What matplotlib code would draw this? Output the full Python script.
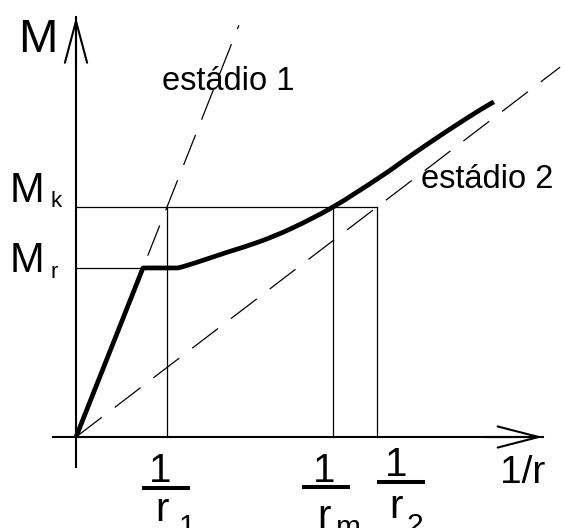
import matplotlib
matplotlib.use('Agg')
import matplotlib.pyplot as plt
from matplotlib.path import Path
from matplotlib.patches import PathPatch
import numpy as np

plt.rcParams['font.family'] = ['Liberation Sans', 'DejaVu Sans']

# moment-curvature diagram values (curvature 1/r, moment M)
inv_r_curve = [0, 0.736, 1.121, 1.286, 1.659, 2.022, 2.385, 2.824, 3.341, 3.703, 4.077, 4.440, 4.593]
m_curve = [0, 73.5, 73.5, 75.4, 80.3, 85.0, 91.0, 100.0, 113.0, 123.0, 133.0, 142.2, 145.7]

m_r = 73.5      # cracking moment
m_k = 100.0     # service moment
inv_r1 = 1.0    # stage 1 curvature at M_k
inv_rm = 2.824  # mean curvature at M_k
inv_r2 = 3.308  # stage 2 curvature at M_k

stage_labels = ['estádio 1', 'estádio 2']
tick_subscripts = ['1', 'm', '2']

# where the dashed stage lines stop
stage_ends = [1.79, 5.32]

# fraction label layout: (x of "1", y of "1", bar x0, bar x1, bar y, x of r, y of r, x of sub, y of sub)
frac_layout = [
    (0.929, -19.6, 0.725, 1.253, -22.2, 0.868, -36.5, 1.129, -42.6),
    (2.725, -19.6, 2.484, 3.011, -21.7, 2.652, -39.6, 2.857, -43.0),
    (3.522, -17.0, 3.308, 3.835, -19.6, 3.440, -35.2, 3.637, -42.2),
]


def smooth_path(xs, ys, n_straight):
    """Straight segments for the first n_straight points, then a
    Catmull-Rom style bezier through the remaining points."""
    pts = np.column_stack([xs, ys])
    verts = [pts[0]]
    codes = [Path.MOVETO]
    for p in pts[1:n_straight]:
        verts.append(p)
        codes.append(Path.LINETO)
    k = n_straight - 1
    for i in range(k, len(pts) - 1):
        p0 = pts[i - 1] if i > k else pts[i]
        p1, p2 = pts[i], pts[i + 1]
        p3 = pts[i + 2] if i + 2 < len(pts) else pts[i + 1]
        c1 = p1 + (p2 - p0) / 6
        c2 = p2 - (p3 - p1) / 6
        verts += [c1, c2, p2]
        codes += [Path.CURVE4] * 3
    return Path(verts, codes)


fig = plt.figure(figsize=(5.65, 5.28), dpi=100)
ax = fig.add_axes([0, 0, 1, 1])
ax.axis('off')
ax.set_xlim(-76 / 91, (565 - 76) / 91)
ax.set_ylim(-(528 - 437) / 2.3, 437 / 2.3)

# axes with open arrow heads
ax.plot([-0.253, 5.13], [0, 0], color='black', lw=1.5)
ax.plot([0, 0], [-13, 182.6], color='black', lw=1.5)
ax.annotate('', xy=(5.13, 0), xytext=(4.5, 0),
            arrowprops=dict(arrowstyle='->,head_length=29.5,head_width=7.6',
                            mutation_scale=1, lw=1.5, color='black',
                            shrinkA=0, shrinkB=0))
ax.annotate('', xy=(0, 182.6), xytext=(0, 160),
            arrowprops=dict(arrowstyle='->,head_length=30,head_width=8',
                            mutation_scale=1, lw=1.5, color='black',
                            shrinkA=0, shrinkB=0))

# stage 1 and stage 2 reference lines
dash = (0, (26, 13))
for x_ref, x_end in zip([inv_r1, inv_r2], stage_ends):
    slope = m_k / x_ref
    ax.plot([0, x_end], [0, slope * x_end], color='black', lw=0.9, linestyle=dash)

# guide lines
thin = dict(color='black', lw=0.9)
ax.plot([0, inv_r2], [m_k, m_k], **thin)
ax.plot([0, inv_r_curve[1]], [m_r, m_r], **thin)
for xv in [inv_r1, inv_rm, inv_r2]:
    ax.plot([xv, xv], [0, m_k], **thin)

# real behaviour curve
ax.add_patch(PathPatch(smooth_path(inv_r_curve, m_curve, 3), fill=False,
                       edgecolor='black', lw=3.4, joinstyle='round',
                       capstyle='butt', zorder=5))

# axis labels
ax.text(-0.632, 167.4, 'M', fontsize=34, ha='left', va='baseline')
ax.text(4.656, -20.0, '1/r', fontsize=28, ha='left', va='baseline')
ax.text(-0.725, 102.2, 'M', fontsize=30, ha='left', va='baseline')
ax.text(-0.275, 100.0, 'k', fontsize=16, ha='left', va='baseline')
ax.text(-0.725, 71.7, 'M', fontsize=30, ha='left', va='baseline')
ax.text(-0.28, 69.1, 'r', fontsize=16, ha='left', va='baseline')

ax.text(0.942, 150.9, stage_labels[0], fontsize=23.5, ha='left', va='baseline')
ax.text(3.788, 108.3, stage_labels[1], fontsize=23.5, ha='left', va='baseline')

# 1/r tick labels written as fractions
for sub, (x1, y1, b0, b1, by, xr, yr, xs, ys) in zip(tick_subscripts, frac_layout):
    ax.text(x1, y1, '1', fontsize=29, ha='center', va='baseline')
    ax.plot([b0, b1], [by, by], color='black', lw=2.9, solid_capstyle='butt')
    ax.text(xr, yr, 'r', fontsize=29, ha='left', va='baseline')
    ax.text(xs, ys, sub, fontsize=21.5, ha='left', va='baseline')

fig.savefig('out.png', dpi=100, facecolor='white')
